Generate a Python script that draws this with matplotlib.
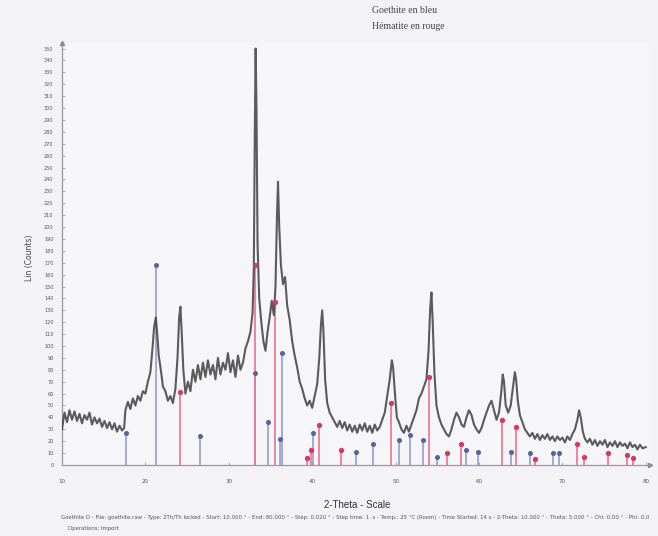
import matplotlib.pyplot as plt
import numpy as np

two_theta = [10.0, 10.3, 10.6, 10.9, 11.2, 11.5, 11.8, 12.1, 12.4, 12.7, 13.0, 13.3,
             13.6, 13.9, 14.2, 14.5, 14.8, 15.1, 15.4, 15.7, 16.0, 16.3, 16.6, 16.9,
             17.2, 17.45, 17.6, 17.9, 18.2, 18.5, 18.8, 19.1, 19.4, 19.7, 20.0, 20.3,
             20.6, 20.85, 21.05, 21.25, 21.4, 21.6, 21.85, 22.1, 22.4, 22.7, 23.0, 23.3,
             23.6, 23.85, 24.05, 24.2, 24.35, 24.55, 24.8, 25.1, 25.4, 25.7, 26.0, 26.3,
             26.6, 26.9, 27.2, 27.5, 27.8, 28.1, 28.4, 28.7, 29.0, 29.3, 29.6, 29.9,
             30.2, 30.5, 30.8, 31.1, 31.4, 31.7, 32.0, 32.3, 32.6, 32.85, 33.0, 33.12,
             33.22, 33.32, 33.45, 33.65, 33.9, 34.15, 34.4, 34.65, 34.9, 35.15, 35.4,
             35.6, 35.78, 35.9, 36.05, 36.25, 36.5, 36.75, 37.0, 37.3, 37.6, 37.9,
             38.2, 38.5, 38.8, 39.1, 39.4, 39.7, 40.0, 40.3, 40.6, 40.85, 41.05, 41.2,
             41.35, 41.55, 41.8, 42.1, 42.4, 42.7, 43.0, 43.3, 43.6, 43.9, 44.2, 44.5,
             44.8, 45.1, 45.4, 45.7, 46.0, 46.3, 46.6, 46.9, 47.2, 47.5, 47.8, 48.1,
             48.4, 48.7, 49.0, 49.3, 49.55, 49.7, 49.9, 50.15, 50.4, 50.7, 51.0, 51.3,
             51.6, 51.9, 52.2, 52.5, 52.8, 53.1, 53.4, 53.7, 53.95, 54.15, 54.3, 54.45,
             54.65, 54.9, 55.2, 55.5, 55.8, 56.1, 56.4, 56.7, 57.0, 57.3, 57.6, 57.9,
             58.2, 58.5, 58.8, 59.1, 59.4, 59.7, 60.0, 60.3, 60.6, 60.9, 61.2, 61.5,
             61.8, 62.1, 62.4, 62.65, 62.85, 63.0, 63.2, 63.5, 63.8, 64.05, 64.3, 64.45,
             64.65, 64.9, 65.2, 65.5, 65.8, 66.1, 66.4, 66.7, 67.0, 67.3, 67.6, 67.9,
             68.2, 68.5, 68.8, 69.1, 69.4, 69.7, 70.0, 70.3, 70.6, 70.9, 71.2, 71.5,
             71.8, 72.0, 72.2, 72.45, 72.7, 73.0, 73.3, 73.6, 73.9, 74.2, 74.5, 74.8,
             75.1, 75.4, 75.7, 76.0, 76.3, 76.6, 76.9, 77.2, 77.5, 77.8, 78.1, 78.4,
             78.7, 79.0, 79.3, 79.6, 80.0]
counts = [30, 44, 36, 46, 38, 45, 37, 43, 35, 42, 38, 44,
          34, 40, 35, 39, 32, 37, 31, 36, 30, 35, 28, 33,
          29, 31, 46, 53, 47, 56, 50, 58, 54, 62, 60, 70,
          78, 98, 116, 124, 112, 92, 80, 66, 62, 54, 58, 52,
          64, 90, 124, 133, 112, 80, 60, 70, 62, 80, 70, 84,
          72, 86, 74, 88, 76, 84, 72, 90, 76, 86, 80, 94,
          78, 88, 74, 92, 80, 86, 98, 104, 112, 128, 165, 280,
          350, 300, 185, 140, 120, 104, 96, 112, 124, 138, 126,
          150, 210, 238, 200, 168, 152, 158, 134, 122, 104, 92,
          82, 70, 64, 56, 50, 54, 48, 58, 68, 90, 118, 130,
          112, 72, 52, 44, 40, 36, 32, 37, 31, 36, 29, 34,
          28, 33, 27, 34, 29, 35, 28, 33, 27, 34, 29, 32,
          38, 44, 58, 72, 88, 82, 62, 40, 36, 30, 27, 33,
          28, 34, 40, 46, 56, 60, 66, 72, 96, 132, 145, 120,
          78, 50, 40, 34, 30, 26, 24, 30, 38, 44, 40, 34,
          32, 40, 46, 42, 34, 30, 27, 31, 38, 44, 50, 54,
          46, 38, 44, 60, 76, 70, 50, 44, 50, 64, 78, 72,
          54, 42, 36, 30, 27, 24, 27, 22, 26, 21, 25, 22,
          26, 21, 24, 20, 24, 21, 23, 19, 24, 21, 26, 30,
          38, 46, 40, 28, 22, 19, 22, 17, 21, 16, 20, 17,
          21, 15, 19, 16, 20, 15, 19, 16, 18, 14, 19, 15,
          17, 13, 17, 14, 15]

# reference sticks: goethite (blue) and hematite (red)
goethite_pos = [17.7, 21.3, 26.5, 33.2, 34.7, 36.1, 36.4, 40.1, 45.3, 47.3,
                50.4, 51.7, 53.3, 55.0, 58.5, 59.9, 63.8, 66.1, 68.9, 69.6]
goethite_int = [27, 168, 24, 77, 36, 22, 94, 27, 11, 18,
                21, 25, 21, 7, 13, 11, 11, 10, 10, 10]
hematite_pos = [24.2, 33.2, 35.6, 39.4, 39.8, 40.8, 43.5, 49.4, 54.0, 56.2,
                57.8, 62.8, 64.4, 66.7, 71.8, 72.6, 75.5, 77.8, 78.5]
hematite_int = [61, 168, 137, 6, 13, 34, 13, 52, 74, 10,
                18, 38, 32, 5, 18, 7, 10, 8, 6]

footer = ("Goethite D - File: goethite.raw - Type: 2Th/Th locked - Start: 10.000 \u00b0 - "
          "End: 80.000 \u00b0 - Step: 0.020 \u00b0 - Step time: 1. s - Temp.: 25 \u00b0C (Room) - "
          "Time Started: 14 s - 2-Theta: 10.000 \u00b0 - Theta: 5.000 \u00b0 - Chi: 0.00 \u00b0 - Phi: 0.0")

fig = plt.figure(figsize=(6.58, 5.36), dpi=100, facecolor="#f3f3f6")
ax = fig.add_axes([0.0942, 0.1325, 0.8936, 0.788])
ax.set_facecolor("#f6f6f8")

ax.vlines(goethite_pos, 0, goethite_int, color="#8a96c8", lw=1.1, zorder=2)
ax.plot(goethite_pos, goethite_int, "o", ms=2.6, color="#55649e", zorder=4)
ax.vlines(hematite_pos, 0, hematite_int, color="#ee7090", lw=1.2, zorder=2)
ax.plot(hematite_pos, hematite_int, "o", ms=2.8, color="#d83868", zorder=4)

ax.plot(two_theta, counts, color="#404040", lw=1.5, alpha=0.85, zorder=3)

ax.set_xlim(10, 80.5)
ax.set_ylim(0, 355)
ax.set_xticks(np.arange(10, 81, 10))
ax.set_yticks(np.arange(0, 351, 10))
ax.tick_params(axis="both", direction="in", length=2.5, width=0.6,
               color="#999999", labelcolor="#555555")
ax.tick_params(axis="y", labelsize=3.6, pad=6)
ax.tick_params(axis="x", labelsize=4, pad=10)
for side in ["top", "right"]:
    ax.spines[side].set_visible(False)
for side in ["left", "bottom"]:
    ax.spines[side].set_color("#9a9a9a")
    ax.spines[side].set_linewidth(0.9)
ax.plot(0, 1, "^", ms=3, color="#888888", transform=ax.transAxes, clip_on=False)
ax.plot(1, 0, ">", ms=3, color="#888888", transform=ax.transAxes, clip_on=False)

fig.text(0.045, 0.52, "Lin (Counts)", rotation=90, ha="center", va="center",
         fontsize=5.5, color="#444444")
fig.text(0.543, 0.057, "2-Theta - Scale", ha="center", va="center",
         fontsize=7, color="#333333", family="Liberation Sans")
fig.text(0.093, 0.034, footer, ha="left", va="center", fontsize=3.85, color="#555555")
fig.text(0.103, 0.014, "Operations: Import", ha="left", va="center",
         fontsize=3.85, color="#555555")

fig.text(0.565, 0.981, "Goethite en bleu", ha="left", va="center",
         fontsize=7, color="#444444", family="Liberation Serif")
fig.text(0.565, 0.950, "H\u00e9matite en rouge", ha="left", va="center",
         fontsize=7, color="#444444", family="Liberation Serif")

fig.savefig("out.png", dpi=100, facecolor=fig.get_facecolor())
